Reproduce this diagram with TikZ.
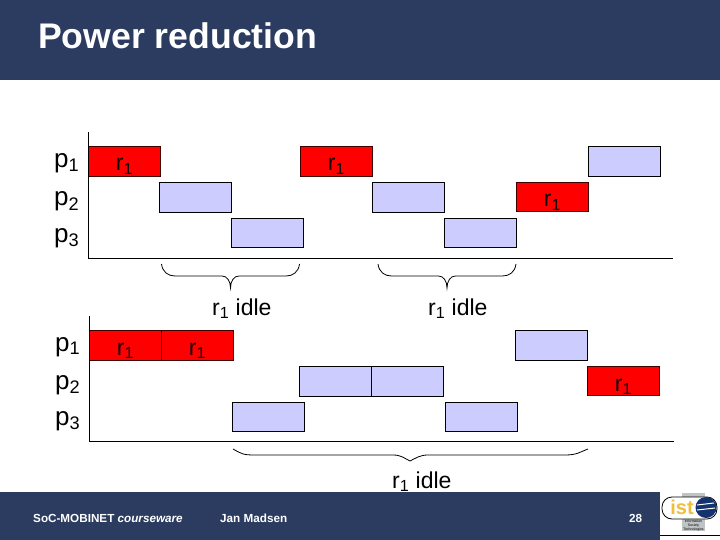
\documentclass[tikz,border=0pt]{standalone}
\usepackage{fontspec}
\setmainfont{Liberation Sans}
\usetikzlibrary{positioning, shapes.geometric}
\definecolor{barcol}{RGB}{43, 60, 96}
\definecolor{taskcol}{RGB}{204, 204, 255}
\definecolor{r1col}{RGB}{255, 0, 0}
\definecolor{istcol}{RGB}{240, 190, 60}
\definecolor{globecol}{RGB}{20, 50, 110}
\definecolor{panelcol}{RGB}{190, 195, 195}
\newcommand{\rone}{r\textsubscript{1}}
\tikzset{
  task/.style    = {draw=black, line width=0.8pt, inner sep=0pt, outer sep=0pt,
                    minimum width=72pt, minimum height=30pt, fill=taskcol},
  rtask/.style   = {task, fill=r1col, draw=black!75!red, text=black!92!red,
                    font=\fontsize{23}{23}\selectfont,
                    text height=20pt, text depth=0pt},
  lowrow/.style  = {minimum height=29pt},
  proclbl/.style = {anchor=base west, inner sep=0pt, font=\fontsize{26}{26}\selectfont},
  idlelbl/.style = {anchor=base west, inner sep=0pt, font=\fontsize{23}{23}\selectfont},
  axis/.style    = {draw=black, line width=1pt},
  brc/.style     = {draw=black, line width=0.8pt},
  foot/.style    = {anchor=base west, inner sep=0pt, text=white, font=\fontsize{11.7}{12}\selectfont\bfseries},
}

\begin{document}
\begin{tikzpicture}[x=1pt, y=-1pt]
  \useasboundingbox (0,0) rectangle (720,540);

  %% ---------------- header and footer ----------------
  \fill[barcol] (0,0) rectangle (720,80);
  \fill[barcol] (0,492) rectangle (660,540);
  \node[anchor=base west, inner sep=0pt, text=white, font=\fontsize{35.6}{36}\selectfont\bfseries] (title)
       at (38,49) {Power reduction};
  \node[foot] (course) at (33,522) {SoC-MOBINET \itshape courseware};
  \node[foot] (author) at (220,522) {Jan Madsen};
  \node[foot] (page) at (629,522) {28};

  %% ---------------- top schedule ----------------
  \coordinate (topstart) at (88,132);
  \coordinate (toporigin) at (88,258);
  \coordinate (topend) at (673,258);
  \node[proclbl] (tp1) at (54,168) {p\textsubscript{1}};
  \node[proclbl] (tp2) at (54,206) {p\textsubscript{2}};
  \node[proclbl] (tp3) at (54,242) {p\textsubscript{3}};

  \node[rtask, anchor=north west] (tr1) at (88.5,146) {\rone};
  \node[task, below right=6pt and -1pt of tr1] (tt1) {};
  \node[task, lowrow, below right=6.5pt and 0pt of tt1] (tt2) {};
  \node[rtask, anchor=north west] (tr2) at (300.5,146) {\rone};
  \node[task, below right=6pt and 0pt of tr2] (tt3) {};
  \node[task, lowrow, below right=6.5pt and 0pt of tt3] (tt4) {};
  \node[rtask, lowrow, above right=7.5pt and 0pt of tt4] (tr3) {\rone};
  \node[task, above right=6pt and 0pt of tr3] (tt5) {};

  \draw[axis] (topstart) -- (toporigin) -- (topend);

  % Both idle gaps of the top schedule get the same brace.
  \coordinate (idlea) at (161.5,264);
  \coordinate (idleb) at (378,264);
  \draw[brc] (idlea) .. controls +(1,8) and +(-7,0) .. ++(13.5,12) -- ++(47,0)
       .. controls +(5,0) and +(0,-7) .. ++(8.5,12)
       .. controls +(0,-7) and +(-5,0) .. ++(8.5,-12) -- ++(47,0)
       .. controls +(7,0) and +(-1,8) .. ++(13.5,-12);
  \draw[brc] (idleb) .. controls +(1,8) and +(-7,0) .. ++(13.5,12) -- ++(47,0)
       .. controls +(5,0) and +(0,-7) .. ++(8.5,12)
       .. controls +(0,-7) and +(-5,0) .. ++(8.5,-12) -- ++(47,0)
       .. controls +(7,0) and +(-1,8) .. ++(13.5,-12);
  \node[idlelbl] (idlelbla) at (212,315) {\rone{} idle};
  \node[idlelbl] (idlelblb) at (428,315) {\rone{} idle};

  %% ---------------- bottom schedule ----------------
  \coordinate (botstart) at (89.5,316);
  \coordinate (botorigin) at (89.5,441);
  \coordinate (botend) at (674,441);
  \node[proclbl] (bp1) at (55,351) {p\textsubscript{1}};
  \node[proclbl] (bp2) at (55,389) {p\textsubscript{2}};
  \node[proclbl] (bp3) at (55,425) {p\textsubscript{3}};

  \node[rtask, anchor=north west] (br1) at (89.5,330) {\rone};
  \node[rtask, right=0pt of br1] (br2) {\rone};
  \node[task, lowrow, below right=42.5pt and -1pt of br2] (bt1) {};
  \node[task, anchor=north west] (bt2) at (299.5,366.5) {};
  \node[task, right=0pt of bt2] (bt3) {};
  \node[task, lowrow, below right=6pt and 2pt of bt3] (bt4) {};
  \node[task, above right=42.5pt and -2pt of bt4] (bt5) {};
  \node[rtask, lowrow, below right=6.5pt and 0pt of bt5] (br3) {\rone};

  \draw[axis] (botstart) -- (botorigin) -- (botend);

  \coordinate (idlec) at (233,449);
  \draw[brc] (idlec) .. controls +(9,5) and +(-12,0) .. ++(22,6) -- ++(138,0)
       .. controls +(8,0) and +(-6,-3) .. ++(17,6)
       .. controls +(6,-3) and +(-8,0) .. ++(18,-6) -- ++(137,0)
       .. controls +(12,0) and +(-8,3) .. ++(23,-6);
  \node[idlelbl] (idlelblc) at (392,488) {\rone{} idle};

  %% ---------------- logo ----------------
  \fill[panelcol] (682,493) rectangle (705,531);
  \node[draw=black, fill=white, rounded corners=10pt, line width=0.8pt, inner sep=0pt,
        minimum width=55pt, minimum height=22pt] (logo) at (689.5,508) {};
  \node[inner sep=0pt, text=istcol, font=\fontsize{20}{20}\selectfont\bfseries] (ist)
       at (682,507) {ist};
  \node[circle, fill=globecol, inner sep=0pt, minimum size=21pt] (globe) at (706,507.5) {};
  \draw[white, line width=1pt] (697,505) -- (714,503);
  \draw[white, line width=1pt] (697,510) -- (715,508);
  \node[inner sep=0pt, align=center, font=\fontsize{3.5}{4}\selectfont] (isttext)
       at (693.5,525.5) {Information\\Society\\Technologies};
  \draw[black, line width=1pt] (660,535) -- (720,535);

\end{tikzpicture}
\end{document}
